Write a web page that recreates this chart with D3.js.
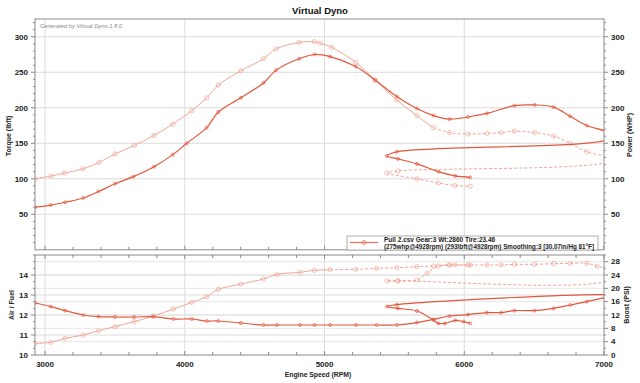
<!DOCTYPE html>
<html><head><meta charset="utf-8">
<script src="https://cdn.jsdelivr.net/npm/d3@7"></script>
<style>body{margin:0;background:#fff}svg{display:block}text{font-family:"Liberation Sans",Arial,sans-serif}</style>
</head><body>
<script>
// ---- data ----
const torqueRpm = [2928,3043,3138,3270,3387,3501,3639,3780,3914,4050,4157,4240,4401,4563,4654,4818,4928,4968,5052,5224,5362,5517,5661,5780,5894,6026,6162,6264,6359,6503,6639,6758,6877,7008,7050,7030,5525,5446,5661,5815,5935,6043];
const torque    = [100,104,108,114,123,135,147,161,177,196,214,232,252,269,283,292,293,291,285,264,239,211,189,172,165,163,164,165,167,165,160,150,138,132,130,124,111,108,100,94,90.5,89.5];
const powerRpm  = [2928,3041,3143,3274,3382,3501,3632,3780,3914,4014,4157,4240,4401,4563,4654,4818,4928,5040,5224,5362,5517,5661,5780,5894,6026,6162,6359,6503,6639,6758,6877,7008,7050,7030,5517,5446,5525,5661,5815,5935,6043];
const power     = [60,63,67,73,82,93,103,117,134,150,172,194,214,235,253,269,275,272,258,239,216,199,189,184,187,192,203,204,201,188,175,167,162,155.5,138,132,128,121,110,104,102];
const afrRpm    = [2928,3041,3143,3274,3382,3501,3637,3775,3919,4050,4157,4240,4401,4563,4659,4825,4928,5040,5224,5373,5517,5661,5780,5894,6026,6162,6264,6359,6503,6639,6758,6877,7008,7050,7030,5517,5446,5525,5661,5780,5815,5862,5935,5994,6043];
const afr       = [12.6,12.42,12.22,12.0,11.92,11.9,11.9,11.92,11.8,11.8,11.7,11.7,11.6,11.5,11.5,11.5,11.5,11.5,11.5,11.5,11.5,11.62,11.78,11.95,12.02,12.12,12.12,12.22,12.22,12.33,12.5,12.67,12.88,12.95,13.0,12.52,12.42,12.33,12.2,11.75,11.58,11.58,11.73,11.67,11.58];
const boostRpm  = [2928,3041,3143,3274,3382,3501,3637,3775,3919,4050,4157,4240,4401,4563,4659,4825,4928,5040,5224,5373,5517,5661,5780,5894,6026,6162,6264,6359,6503,6639,6758,6877,6950,7008,7050,7030,5525,5446,5525,5661,5732,5815,5894,5935,6043];
const boost     = [3.5,3.8,5.0,6.0,7.3,8.5,10.0,11.7,13.8,15.8,17.5,19.7,21.3,22.8,24.2,24.8,25.4,25.6,25.7,26.0,26.2,26.5,26.7,27.0,27.0,27.0,27.0,27.2,27.2,27.4,27.5,27.5,26.7,26.0,25.2,22.5,22.3,22.2,22.2,22.5,24.5,26.7,27.0,27.0,27.0];
const rpmTicks = [3000,4000,5000,6000,7000];
const topTicks = [50,100,150,200,250,300];
const afrTicks = [10,11,12,13,14];
const boostTicks = [0,4,8,12,16,20,24,28];
const titleText = "Virtual Dyno";
const legendLines = ["Pull 2.csv Gear:3 Wt:2860 Tire:23.46","(275whp@4928rpm) (293lbft@4928rpm) Smoothing:3 [30.07in/Hg 81°F]"];

// ---- layout ----
const W=640,H=383, L=35, R=604, T1=19, B1=249.8, T2=255, B2=355;
const dark="#e2583c", light="#f0a595", grid="#dcdcdc", frame="#8a8a8a";
const svg=d3.select("body").append("svg").attr("width",W).attr("height",H);
const x=d3.scaleLinear().domain([2928,7000]).range([L,R]);
const yT=d3.scaleLinear().domain([0,325]).range([B1,T1]);
const yA=d3.scaleLinear().domain([10,15]).range([B2,T2]);
const yB=d3.scaleLinear().domain([0,30]).range([B2,T2]);

const defs=svg.append("defs");
defs.append("clipPath").attr("id","c1").append("rect").attr("x",L).attr("y",T1).attr("width",R-L).attr("height",B1-T1);
defs.append("clipPath").attr("id","c2").append("rect").attr("x",L).attr("y",T2).attr("width",R-L).attr("height",B2-T2);

// grids
const g=svg.append("g");
topTicks.forEach(v=>g.append("line").attr("x1",L).attr("x2",R).attr("y1",yT(v)).attr("y2",yT(v)).attr("stroke",grid));
afrTicks.filter(v=>v>10).forEach(v=>g.append("line").attr("x1",L).attr("x2",R).attr("y1",yA(v)).attr("y2",yA(v)).attr("stroke",grid));
boostTicks.filter(v=>v>0).forEach(v=>g.append("line").attr("x1",L).attr("x2",R).attr("y1",yB(v)).attr("y2",yB(v)).attr("stroke","#e6e6e6"));
rpmTicks.filter(v=>v<7000).forEach(v=>{
  g.append("line").attr("x1",x(v)).attr("x2",x(v)).attr("y1",T1).attr("y2",B1).attr("stroke",grid);
  g.append("line").attr("x1",x(v)).attr("x2",x(v)).attr("y1",T2).attr("y2",B2).attr("stroke",grid);
});

// frames
[[T1,B1],[T2,B2]].forEach(([t,b])=>{
  svg.append("rect").attr("x",L).attr("y",t).attr("width",R-L).attr("height",b-t).attr("fill","none").attr("stroke",frame).attr("stroke-width",1);
});

// axes
function axisL(scale,ticks,minorStep,lo,hi){
  const a=svg.append("g");
  for(let v=lo; v<=hi+1e-9; v+=minorStep){
    const major=ticks.some(t=>Math.abs(t-v)<1e-6);
    a.append("line").attr("x1",L-(major?4:2)).attr("x2",L).attr("y1",scale(v)).attr("y2",scale(v)).attr("stroke",frame);
  }
  ticks.forEach(t=>a.append("text").attr("x",L-7).attr("y",scale(t)).attr("dy","0.35em").attr("text-anchor","end").attr("font-size",8).attr("font-weight","bold").attr("fill","#222").text(t));
}
function axisR(scale,ticks,minorStep,lo,hi){
  const a=svg.append("g");
  for(let v=lo; v<=hi+1e-9; v+=minorStep){
    const major=ticks.some(t=>Math.abs(t-v)<1e-6);
    a.append("line").attr("x1",R).attr("x2",R+(major?4:2)).attr("y1",scale(v)).attr("y2",scale(v)).attr("stroke",frame);
  }
  ticks.forEach(t=>a.append("text").attr("x",R+7).attr("y",scale(t)).attr("dy","0.35em").attr("text-anchor","start").attr("font-size",8).attr("font-weight","bold").attr("fill","#222").text(t));
}
axisL(yT,topTicks,10,10,320);
axisR(yT,topTicks,10,10,320);
axisL(yA,afrTicks,1/3,10,15);
axisR(yB,boostTicks,2,0,30);

// x ticks
const xa=svg.append("g");
for(let v=3000; v<=7000; v+=200){
  const major=v%1000===0;
  [[B2,-1],[T2,1],[B1,-1]].forEach(([y0,dir])=>{
    xa.append("line").attr("x1",x(v)).attr("x2",x(v)).attr("y1",y0).attr("y2",y0+dir*(major?4:3)).attr("stroke",frame);
  });
}
rpmTicks.forEach(t=>xa.append("text").attr("x",x(t)).attr("y",367).attr("text-anchor","middle").attr("font-size",8).attr("font-weight","bold").attr("fill","#222").text(t));

// titles
svg.append("text").attr("x",320).attr("y",14).attr("text-anchor","middle").attr("font-size",9.5).attr("font-weight","bold").attr("fill","#111").text(titleText);
svg.append("text").attr("x",318).attr("y",377).attr("text-anchor","middle").attr("font-size",6.8).attr("font-weight","bold").attr("fill","#222").text("Engine Speed (RPM)");
function vtitle(txt,cx,cy){svg.append("text").attr("transform",`translate(${cx},${cy}) rotate(-90)`).attr("text-anchor","middle").attr("font-size",7).attr("font-weight","bold").attr("fill","#222").text(txt);}
vtitle("Torque (lbft)",11,136);
vtitle("Air / Fuel",14,305);
vtitle("Power (WHP)",632,135);
vtitle("Boost (PSI)",629,305);
svg.append("text").attr("x",40).attr("y",27.5).attr("font-size",6).attr("font-style","italic").attr("fill","#888").attr("textLength",82).attr("lengthAdjust","spacingAndGlyphs").text("Generated by Virtual Dyno 1.8.0");

// series
function series(clip,xs,ys,ysc,color,width,dashFrom,dash,mr){
  const pts=xs.map((r,i)=>[x(r),ysc(ys[i])]);
  const gg=svg.append("g").attr("clip-path",`url(#${clip})`);
  const line=d3.line().curve(d3.curveCatmullRom.alpha(0.5));
  const k = dashFrom==null? pts.length-1 : dashFrom;
  gg.append("path").attr("d",line(pts.slice(0,k+1))).attr("fill","none").attr("stroke",color).attr("stroke-width",width);
  if(k<pts.length-1) gg.append("path").attr("d",line(pts.slice(k))).attr("fill","none").attr("stroke",color).attr("stroke-width",width).attr("stroke-dasharray",dash);
  gg.selectAll(null).data(pts.filter((p,i)=>xs[i]<=7000 && !(i>0 && Math.abs(xs[i]-7030)<1))).enter().append("circle")
    .attr("cx",d=>d[0]).attr("cy",d=>d[1]).attr("r",mr).attr("fill","none").attr("stroke",color).attr("stroke-width",0.7);
}
series("c1",torqueRpm,torque,yT,light,1,torqueRpm.indexOf(5780),"3,2",2.1);
series("c1",powerRpm,power,yT,dark,1.2,null,null,1.5);
series("c2",boostRpm,boost,yB,light,1,boostRpm.indexOf(5040),"3,2",2.1);
series("c2",afrRpm,afr,yA,dark,1.2,null,null,1.5);

// legend
const lg=svg.append("g");
lg.append("rect").attr("x",347).attr("y",236).attr("width",251).attr("height",14).attr("fill","#fff").attr("stroke","#999").attr("stroke-width",0.8);
lg.append("line").attr("x1",350).attr("x2",378).attr("y1",242.5).attr("y2",242.5).attr("stroke","#e8735c").attr("stroke-width",1.2);
lg.append("circle").attr("cx",364).attr("cy",242.5).attr("r",2).attr("fill","none").attr("stroke","#e8735c").attr("stroke-width",0.8);
lg.append("text").attr("x",384).attr("y",242).attr("font-size",6.5).attr("font-weight","bold").attr("fill","#222").text(legendLines[0]);
lg.append("text").attr("x",384).attr("y",249).attr("font-size",6.5).attr("font-weight","bold").attr("fill","#222").attr("textLength",210).attr("lengthAdjust","spacingAndGlyphs").text(legendLines[1]);
</script>
</body></html>
